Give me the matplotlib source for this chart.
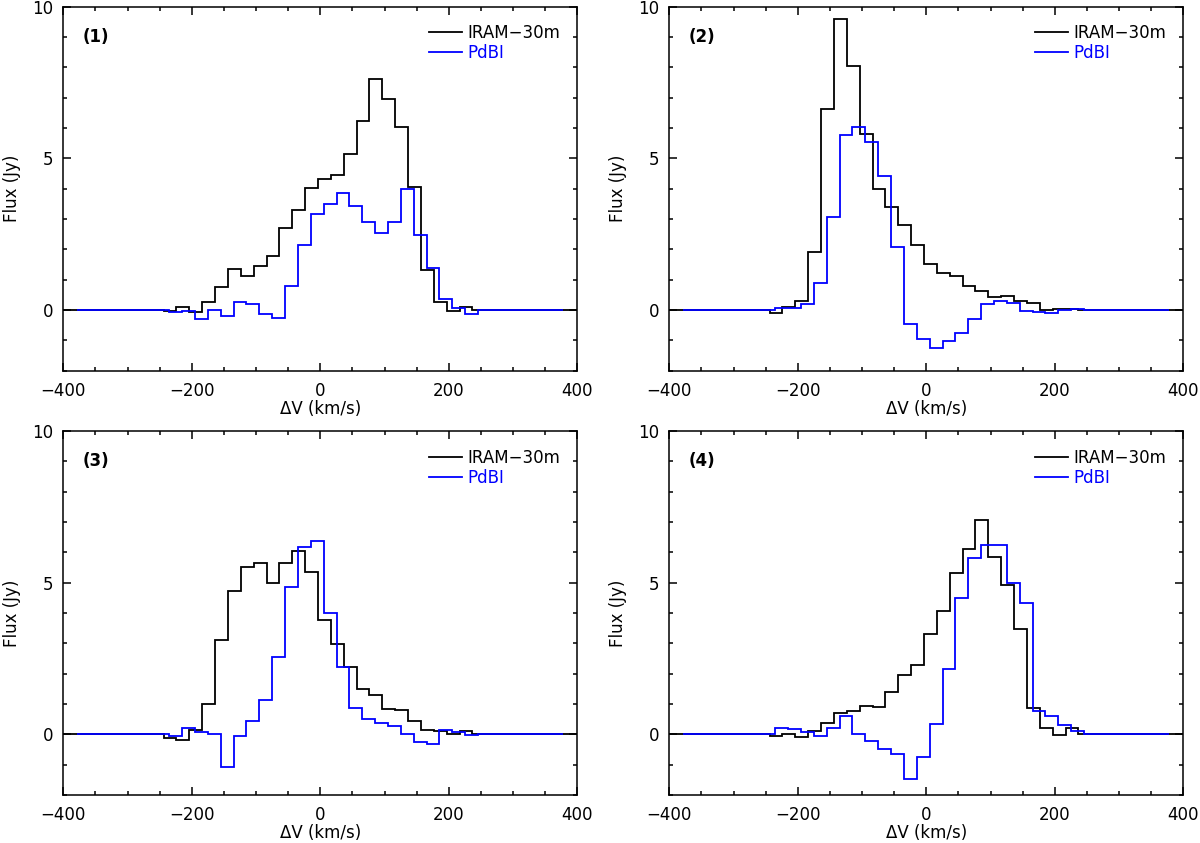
"""
Four CO line profiles: IRAM-30m single dish vs PdBI interferometer
"""

import matplotlib
matplotlib.use("Agg")
import matplotlib.pyplot as plt
from matplotlib.lines import Line2D
from matplotlib.ticker import MultipleLocator
import numpy as np

# channel grid (km/s)
V_START_IRAM = -244.0
V_START_PDBI = -235.2
DV = 20.03
N_CHAN = 24

p1_iram = [-0.03, 0.11, -0.05, 0.27, 0.76, 1.34, 1.12, 1.46, 1.77, 2.69, 3.31, 4.03,
           4.31, 4.46, 5.15, 6.23, 7.60, 6.97, 6.04, 4.05, 1.33, 0.26, -0.03, 0.11]
p1_pdbi = [-0.07, -0.04, -0.31, 0.01, -0.19, 0.26, 0.19, -0.12, -0.25, 0.79, 2.13, 3.18,
           3.48, 3.87, 3.43, 2.91, 2.54, 2.90, 4.00, 2.46, 1.37, 0.36, 0.08, -0.13]

p2_iram = [-0.11, 0.09, 0.31, 1.90, 6.62, 9.60, 8.04, 5.81, 3.99, 3.40, 2.81, 2.15,
           1.51, 1.21, 1.12, 0.79, 0.63, 0.44, 0.47, 0.30, 0.22, 0.00, 0.02, 0.04]
p2_pdbi = [0.08, 0.05, 0.19, 0.90, 3.05, 5.76, 6.03, 5.54, 4.43, 2.09, -0.47, -0.97,
           -1.24, -1.02, -0.75, -0.30, 0.20, 0.31, 0.23, -0.04, -0.07, -0.09, 0.00, 0.04]

p3_iram = [-0.11, -0.18, 0.14, 1.01, 3.10, 4.72, 5.51, 5.66, 4.98, 5.66, 6.06, 5.36,
           3.78, 2.98, 2.22, 1.51, 1.31, 0.83, 0.80, 0.44, 0.15, 0.12, 0.00, 0.11]
p3_pdbi = [-0.05, 0.21, 0.09, 0.00, -1.07, -0.07, 0.45, 1.14, 2.55, 4.87, 6.17, 6.36,
           3.99, 2.23, 0.88, 0.50, 0.36, 0.27, 0.00, -0.24, -0.32, 0.16, 0.07, -0.03]

p4_iram = [-0.04, 0.00, -0.08, 0.10, 0.38, 0.72, 0.76, 0.93, 0.90, 1.40, 1.97, 2.30,
           3.30, 4.07, 5.32, 6.12, 7.06, 5.85, 4.92, 3.48, 0.87, 0.20, -0.02, 0.22]
p4_pdbi = [0.22, 0.18, 0.07, -0.04, 0.20, 0.61, 0.00, -0.23, -0.48, -0.66, -1.47, -0.74,
           0.33, 2.16, 4.49, 5.83, 6.24, 6.23, 4.98, 4.32, 0.77, 0.60, 0.31, 0.11]

panel_labels = ["(1)", "(2)", "(3)", "(4)"]
iram_sets = [p1_iram, p2_iram, p3_iram, p4_iram]
pdbi_sets = [p1_pdbi, p2_pdbi, p3_pdbi, p4_pdbi]

plt.rcParams['font.family'] = ['DejaVu Sans']
plt.rcParams['font.size'] = 12


def padded(values, v_start, pad):
    edges = v_start + DV * np.arange(len(values) + 1)
    edges = np.concatenate([[-pad], edges, [pad]])
    vals = np.concatenate([[0.0], values, [0.0]])
    return vals, edges


fig = plt.figure(figsize=(12, 8.43), dpi=100)
lefts = [0.0528, 0.5578, 0.0528, 0.5578]
bottoms = [0.5603, 0.5603, 0.0569, 0.0569]

for i in range(4):
    ax = fig.add_axes([lefts[i], bottoms[i], 0.4283, 0.4318])
    vals, edges = padded(iram_sets[i], V_START_IRAM, 400)
    ax.stairs(vals, edges, baseline=None, color='black', lw=1.3, zorder=2)
    vals, edges = padded(pdbi_sets[i], V_START_PDBI, 378)
    ax.stairs(vals, edges, baseline=None, color='blue', lw=1.3, zorder=3)

    ax.set_xlim(-400, 400)
    ax.set_ylim(-2, 10)
    ax.xaxis.set_major_locator(MultipleLocator(200))
    ax.xaxis.set_minor_locator(MultipleLocator(50))
    ax.yaxis.set_major_locator(MultipleLocator(5))
    ax.yaxis.set_minor_locator(MultipleLocator(1))
    ax.tick_params(which='both', direction='in', top=True, right=True, width=1.1)
    ax.tick_params(which='major', length=5.5, labelsize=12)
    ax.tick_params(which='minor', length=3)
    ax.tick_params(axis='x', pad=8)
    ax.tick_params(axis='y', pad=7)
    for s in ax.spines.values():
        s.set_linewidth(1.1)

    ax.set_xlabel('ΔV (km/s)', labelpad=0)
    ax.set_ylabel('Flux (Jy)', labelpad=8)
    ax.text(0.037, 0.917, panel_labels[i], transform=ax.transAxes,
            fontsize=12, fontweight='bold', ha='left', va='center')

    handles = [Line2D([], [], color='black', lw=1.3), Line2D([], [], color='blue', lw=1.3)]
    ax.legend(handles, ['IRAM−30m', 'PdBI'], loc='upper right', frameon=False,
              labelcolor='linecolor', handlelength=2.0, handletextpad=0.3,
              labelspacing=0.12, bbox_to_anchor=(0.98, 0.97), borderaxespad=0)

fig.savefig('out.png', dpi=100)
